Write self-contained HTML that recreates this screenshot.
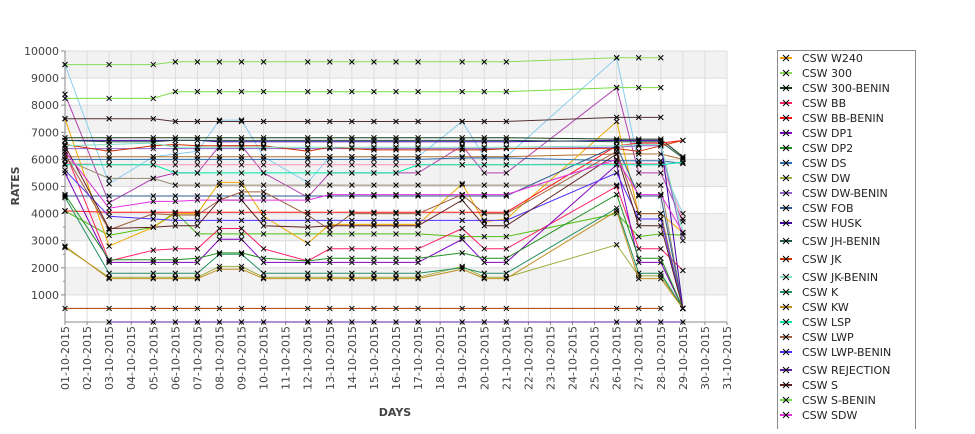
<!DOCTYPE html>
<html><head><meta charset="utf-8"><style>
body{margin:0;background:#fff;font-family:"Liberation Sans","DejaVu Sans",sans-serif}
svg text{font-family:"DejaVu Sans","Liberation Sans",sans-serif}
</style></head><body>
<svg id="chart" width="975" height="429" xmlns="http://www.w3.org/2000/svg"></svg>
<script>
const days = [1,3,5,6,7,8,9,10,12,13,14,15,16,17,19,20,21,26,27,28,29];
const dayLabels = ["01-10-2015","02-10-2015","03-10-2015","04-10-2015","05-10-2015","06-10-2015","07-10-2015","08-10-2015","09-10-2015","10-10-2015","11-10-2015","12-10-2015","13-10-2015","14-10-2015","15-10-2015","16-10-2015","17-10-2015","18-10-2015","19-10-2015","20-10-2015","21-10-2015","22-10-2015","23-10-2015","24-10-2015","25-10-2015","26-10-2015","27-10-2015","28-10-2015","29-10-2015","30-10-2015","31-10-2015"];
const yTicks = [1000,2000,3000,4000,5000,6000,7000,8000,9000,10000];
const seriesNames = ["CSW  W240","CSW 300","CSW 300-BENIN","CSW BB","CSW BB-BENIN","CSW DP1","CSW DP2","CSW DS","CSW DW","CSW DW-BENIN","CSW FOB","CSW HUSK","CSW JH-BENIN","CSW JK","CSW JK-BENIN","CSW K","CSW KW","CSW LSP","CSW LWP","CSW LWP-BENIN","CSW REJECTION","CSW S","CSW S-BENIN","CSW SDW"];
const seriesColors = ["#f0a800","#88dd55","#1a3a1a","#ff2060","#ff1010","#8000c0","#209020","#3070b0","#a0b040","#9060d0","#305a90","#4000a0","#205848","#d03000","#80e0c0","#209060","#c09020","#00e8a8","#a06040","#5030ff","#6020a0","#602020","#77dd44","#e030e0"];
const s0=[7500,2800,3500,4000,4000,5150,5150,3900,2900,3600,3600,3600,3600,3600,5100,3700,3800,7400,4000,4000,3300];
const s1=[9500,9500,9500,9600,9600,9600,9600,9600,9600,9600,9600,9600,9600,9600,9600,9600,9600,9750,9750,9750,null];
const s2=[6800,6800,6800,6800,6800,6800,6800,6800,6800,6800,6800,6800,6800,6800,6800,6800,6800,6750,6750,6750,6100];
const s3=[6300,2250,2650,2700,2700,3450,3450,2700,2250,2700,2700,2700,2700,2700,3450,2700,2700,5000,2700,2700,1900];
const s4=[4100,4050,4050,4050,4050,4050,4050,4050,4050,4050,4050,4050,4050,4050,4050,4050,4050,6500,6600,6600,6700];
const s5=[5500,2200,2200,2200,2200,3050,3050,2200,2200,2200,2200,2200,2200,2200,3050,2200,2200,5800,2200,2200,500];
const s6=[4700,2300,2300,2300,2350,2550,2550,2350,2250,2350,2350,2350,2350,2350,2550,2350,2350,4700,2350,2350,500];
const s7=[6000,6000,6000,6000,6000,6000,6000,6000,6000,6000,6000,6000,6000,6000,6050,6050,6050,5950,5950,5950,5850];
const s8=[2750,1650,1650,1650,1650,2050,2050,1650,1650,1650,1650,1650,1650,1650,2050,1650,1650,2850,1700,1700,500];
const s9=[6400,6400,6400,6400,6400,6400,6400,6400,6400,6400,6400,6400,6400,6400,6400,6400,6400,6450,6500,6500,3000];
const s10=[4650,4650,4650,4650,4650,4650,4650,4650,4650,4650,4650,4650,4650,4650,4650,4650,4650,6500,4650,4650,500];
const s11=[6700,6700,6700,6700,6700,6650,6650,6650,6650,6650,6650,6650,6650,6650,6650,6650,6650,6700,6700,6700,500];
const s12=[6700,6650,6650,6700,6700,6700,6700,6700,6700,6700,6700,6700,6700,6700,6700,6700,6700,6650,6650,6650,6050];
const s13=[6550,6300,6500,6550,6500,6500,6500,6500,6300,6450,6400,6350,6350,6350,6350,6350,6400,6400,6300,6500,6700];
const s14=[6500,6550,6600,6450,6450,6450,6450,6450,6450,6450,6450,6450,6450,6450,6450,6450,6450,6500,6550,6550,3300];
const s15=[4600,1800,1800,1800,1800,2500,2500,1800,1800,1800,1800,1800,1800,1800,2000,1800,1800,4200,1800,1800,500];
const s16=[2800,1600,1600,1600,1600,1950,1950,1600,1600,1600,1600,1600,1600,1600,1950,1600,1600,4100,1600,1600,500];
const s17=[5800,5800,5800,5500,5500,5500,5500,5500,5500,5500,5500,5500,5500,5800,5800,5800,5800,5800,5800,5800,5900];
const s18=[6200,3400,4000,3950,3950,4500,4800,4800,3950,3400,4000,4000,4000,4000,4700,4000,4000,6300,4000,4000,500];
const s19=[5600,3900,3800,3750,3750,3750,3750,3750,3750,3750,3750,3750,3750,3750,3750,3750,3750,5500,3800,3800,500];
const s20=[null,0,0,0,0,0,0,0,0,0,0,0,0,0,0,0,0,0,0,0,0];
const s21=[6500,3450,3500,3550,3550,4500,4500,3550,3500,3550,3550,3550,3550,3550,4500,3550,3550,6200,3550,3550,500];
const s22=[8250,8250,8250,8500,8500,8500,8500,8500,8500,8500,8500,8500,8500,8500,8500,8500,8500,8650,8650,8650,null];
const s23=[6300,4200,4450,4450,4500,4500,4500,4500,4500,4700,4700,4700,4700,4700,4700,4700,4700,6000,4700,4700,3300];
const extraA=[9500,5100,6100,6200,6300,7450,7450,6100,5150,6100,6100,6100,6100,6100,7400,6100,6100,9750,5800,5800,4000];
const extraB=[8400,4400,5300,5500,5500,6500,6500,5500,4600,5500,5500,5500,5500,5500,6500,5500,5500,8650,5500,5500,3700];
const extraC=[7500,7500,7500,7400,7400,7400,7400,7400,7400,7400,7400,7400,7400,7400,7400,7400,7400,7550,7550,7550,null];
const extraD=[6000,5300,5300,5050,5050,5050,5050,5050,5050,5050,5050,5050,5050,5050,5050,5050,5050,5050,5050,5050,500];
const extraE=[5850,5800,5800,5800,5800,5800,5800,5800,5800,5800,5800,5800,5800,5800,5800,5800,5800,5850,5850,5850,3800];
const extraF=[6100,6100,6100,6100,6100,6100,6100,6100,6100,6100,6100,6100,6100,6100,6100,6100,6100,6200,6200,6200,6000];
const extraG=[4100,3200,3500,4050,3250,3250,3250,3250,3250,3250,3250,3250,3250,3250,3150,3150,3150,4000,3150,3250,3200];
const extraH=[500,500,500,500,500,500,500,500,500,500,500,500,500,500,500,500,500,500,500,500,null];
const seriesData=[s0,s1,s2,s3,s4,s5,s6,s7,s8,s9,s10,s11,s12,s13,s14,s15,s16,s17,s18,s19,s20,s21,s22,s23];
const extraData=[extraA,extraB,extraC,extraD,extraE,extraF,extraG,extraH];
const extraColors=["#88ccee","#b040b0","#553030","#958a70","#ff90b0","#b07030","#50c010","#b03800"];

const NS="http://www.w3.org/2000/svg";
const svg=document.getElementById('chart');
const X0=65,X1=727,Y0=322,Y1=51;
const xS=d=>X0+(d-1)*(X1-X0)/30;
const yS=v=>Y0-v*(Y0-Y1)/10000;
function mk(tag,attrs,parent){const e=document.createElementNS(NS,tag);for(const k in attrs)e.setAttribute(k,attrs[k]);(parent||svg).appendChild(e);return e;}

const bg=mk('g',{});


for(let v=0;v<10000;v+=1000){
  const r=mk('rect',{x:X0,y:yS(v+1000),width:X1-X0,height:yS(v)-yS(v+1000),fill:(v/1000)%2===1?'#f2f2f2':'#ffffff'},bg);
  
  
}
const grid=mk('g',{stroke:'#dddddd','stroke-width':1},bg);


for(let d=1;d<=31;d++){mk('line',{x1:xS(d),x2:xS(d),y1:Y1,y2:Y0},grid);}
yTicks.forEach(v=>mk('line',{x1:X0,x2:X1,y1:yS(v),y2:yS(v)},grid));

const yAxis=mk('g',{});


mk('line',{x1:X0,x2:X0,y1:Y1,y2:Y0,stroke:'#888'},yAxis);
yTicks.forEach(v=>{
  mk('line',{x1:X0-4,x2:X0,y1:yS(v),y2:yS(v),stroke:'#888'},yAxis);
  const t=mk('text',{x:X0-6,y:yS(v)+4,'text-anchor':'end','font-size':11,fill:'#444'},yAxis);
  t.textContent=v;
  
  
});
for(let v=500;v<10000;v+=1000)mk('line',{x1:X0-2,x2:X0,y1:yS(v),y2:yS(v),stroke:'#888'},yAxis);
const yt=mk('text',{x:19,y:186,'text-anchor':'middle','font-size':11,'font-weight':'bold',fill:'#444',transform:'rotate(-90 19 186)'});
yt.textContent='RATES';



const xAxis=mk('g',{});


mk('line',{x1:X0,x2:X1,y1:Y0,y2:Y0,stroke:'#888'},xAxis);
dayLabels.forEach((lab,i)=>{
  const x=xS(i+1);
  mk('line',{x1:x,x2:x,y1:Y0,y2:Y0+3,stroke:'#888'},xAxis);
  const t=mk('text',{x:x+4,y:326,'text-anchor':'end','font-size':11,fill:'#444',transform:`rotate(-90 ${x+4} 326)`},xAxis);
  t.textContent=lab;
  
  
});
const xt=mk('text',{x:395,y:416,'text-anchor':'middle','font-size':11,'font-weight':'bold',fill:'#444'});
xt.textContent='DAYS';



function drawSeries(vals,color,name){
  const g=mk('g',{});
  
  
  let d='';let pen=false;
  vals.forEach((v,i)=>{if(v===null){pen=false;return;}d+=(pen?'L':'M')+xS(days[i]).toFixed(1)+','+yS(v).toFixed(1);pen=true;});
  mk('path',{d:d,fill:'none',stroke:color,'stroke-width':1},g);
  vals.forEach((v,i)=>{if(v===null)return;const x=xS(days[i]),y=yS(v);
    const m=mk('path',{d:`M${x-2.5},${y-2.5}L${x+2.5},${y+2.5}M${x-2.5},${y+2.5}L${x+2.5},${y-2.5}`,stroke:'#000','stroke-width':1},g);
    
    
  });
}
extraData.forEach((s,i)=>drawSeries(s,extraColors[i],'series-extra-'+i));
seriesData.forEach((s,i)=>drawSeries(s,seriesColors[i],'series-'+seriesNames[i].toLowerCase().replace(/[^a-z0-9]+/g,'-')));

const leg=mk('g',{});


mk('rect',{x:777.5,y:50.5,width:138,height:385,fill:'#fff',stroke:'#888'},leg);
const legY=[58,73,88,103,118,133,148,163,178,193,208,223,241,259,277,292,307,322,337,352,370,385,400,415];
seriesNames.forEach((n,i)=>{
  const y=legY[i];
  const e=mk('g',{},leg);
  
  
  mk('line',{x1:780,x2:792,y1:y,y2:y,stroke:seriesColors[i],'stroke-width':2},e);
  mk('path',{d:`M${783},${y-3}L${789},${y+3}M${783},${y+3}L${789},${y-3}`,stroke:'#000'},e);
  const t=mk('text',{x:802,y:y+4,'font-size':11,fill:'#222'},e);
  t.textContent=n;
});
</script>
</body></html>
